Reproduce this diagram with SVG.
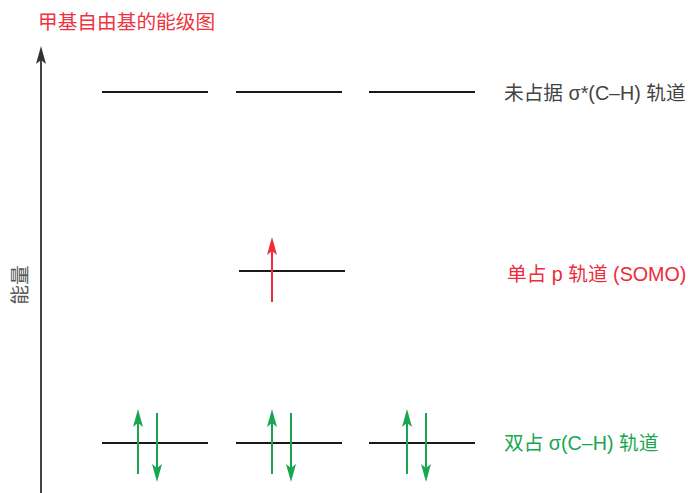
<svg xmlns="http://www.w3.org/2000/svg" width="688" height="493" viewBox="0 0 688 493">
<style>
text{font-family:"Liberation Sans","Noto Sans CJK SC",sans-serif;font-size:19.7px}
.lv{stroke:#1a1a1a;stroke-width:2}
.g{stroke:#1aa650;stroke-width:2}
.r{stroke:#ee2b3b;stroke-width:2}
</style>
<defs>
<marker id="ag" markerWidth="18" markerHeight="10" refX="6" refY="5" orient="auto" markerUnits="userSpaceOnUse" viewBox="0 0 18 10"><path d="M0,0 L18,5 L0,10 L4,5 Z" fill="#1aa650"/></marker>
<marker id="ar" markerWidth="18" markerHeight="10" refX="6" refY="5" orient="auto" markerUnits="userSpaceOnUse" viewBox="0 0 18 10"><path d="M0,0 L18,5 L0,10 L4,5 Z" fill="#ee2b3b"/></marker>
<marker id="ak" markerWidth="18" markerHeight="10" refX="6" refY="5" orient="auto" markerUnits="userSpaceOnUse" viewBox="0 0 18 10"><path d="M0,0 L18,5 L0,10 L4,5 Z" fill="#333"/></marker>
</defs>
<g id="title"><text x="38" y="29" fill="#ee3341">甲基自由基的能级图</text></g>
<g id="axis">
<line x1="41" y1="493" x2="41" y2="58" stroke="#444" stroke-width="2" marker-end="url(#ak)"/>
<text transform="translate(27,285) rotate(-90)" text-anchor="middle" fill="#555">能量</text>
</g>
<g id="sigma-star">
<line class="lv" x1="102" y1="92" x2="208" y2="92"/>
<line class="lv" x1="236" y1="92" x2="342" y2="92"/>
<line class="lv" x1="369" y1="92" x2="475" y2="92"/>
<text x="504" y="100" fill="#444">未占据 σ*(C–H) 轨道</text>
</g>
<g id="somo">
<line class="lv" x1="239" y1="271" x2="345" y2="271"/>
<text x="507" y="281" fill="#ee2b3b">单占 p 轨道 (SOMO)</text>
</g>
<g id="sigma">
<line class="lv" x1="102" y1="443" x2="208" y2="443"/>
<line class="lv" x1="236" y1="443" x2="342" y2="443"/>
<line class="lv" x1="369" y1="443" x2="475" y2="443"/>
<text x="504" y="450" fill="#1aa650">双占 σ(C–H) 轨道</text>
</g>
<g id="connectors">
<line class="r" x1="272" y1="302" x2="272" y2="249" marker-end="url(#ar)"/>
<line class="g" x1="138" y1="474" x2="138" y2="421" marker-end="url(#ag)"/>
<line class="g" x1="157" y1="413" x2="157" y2="470" marker-end="url(#ag)"/>
<line class="g" x1="272" y1="474" x2="272" y2="421" marker-end="url(#ag)"/>
<line class="g" x1="291" y1="413" x2="291" y2="470" marker-end="url(#ag)"/>
<line class="g" x1="407" y1="474" x2="407" y2="421" marker-end="url(#ag)"/>
<line class="g" x1="426" y1="413" x2="426" y2="470" marker-end="url(#ag)"/>
</g>
</svg>
